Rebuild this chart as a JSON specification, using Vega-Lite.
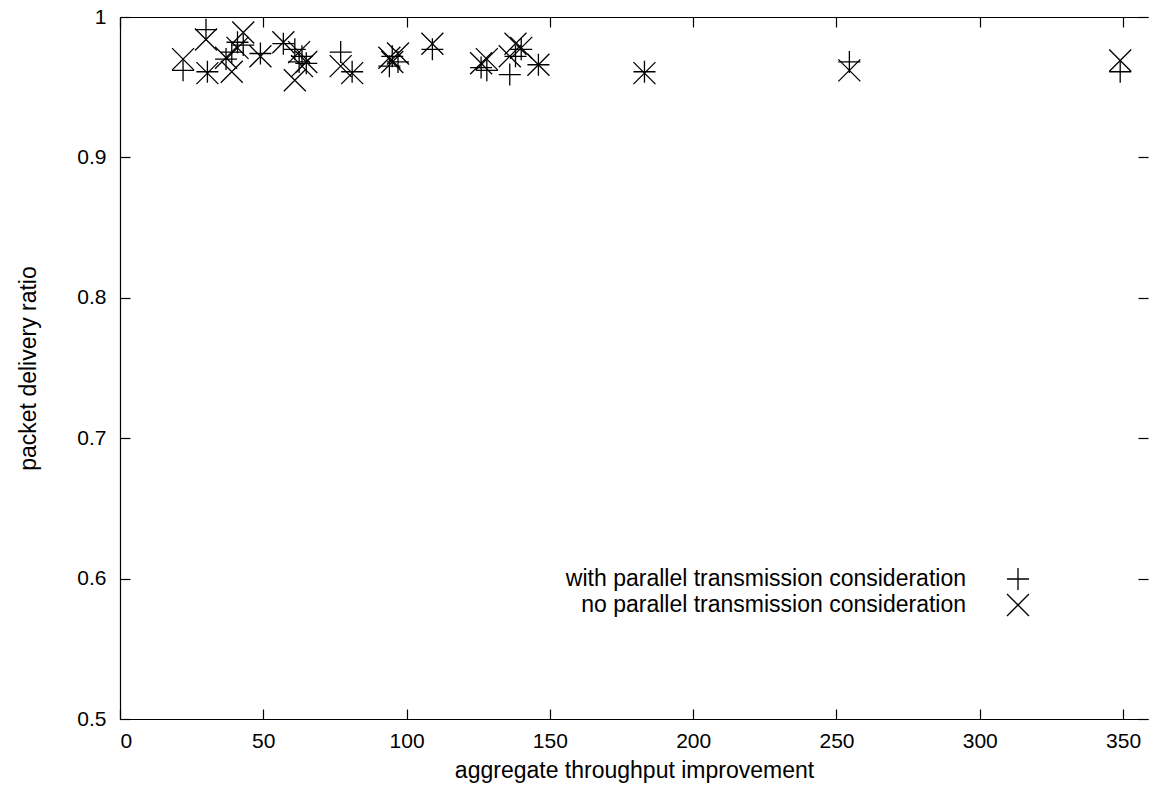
{
  "$schema": "https://vega.github.io/schema/vega-lite/v6.json",
  "autosize": {"type": "none"},
  "padding": {"left": 120, "top": 17, "right": 1, "bottom": 70},
  "width": 1028,
  "height": 702,
  "background": "white",
  "config": {
    "view": {"stroke": null},
    "font": "Liberation Sans",
    "axis": {
      "labelFont": "Liberation Sans",
      "titleFont": "Liberation Sans",
      "labelColor": "black",
      "titleColor": "black",
      "domainColor": "black",
      "tickColor": "black",
      "labelFontSize": 21,
      "titleFontSize": 23,
      "titleFontWeight": "normal",
      "grid": false,
      "tickSize": -10,
      "tickWidth": 1.2,
      "domainWidth": 1.2
    },
    "legend": {
      "labelFont": "Liberation Sans",
      "labelFontSize": 23,
      "labelColor": "black",
      "labelLimit": 0
    }
  },
  "data": {
    "values": [
      {"x": 22, "y": 0.962, "series": "with parallel transmission consideration"},
      {"x": 30, "y": 0.991, "series": "with parallel transmission consideration"},
      {"x": 30.5, "y": 0.961, "series": "with parallel transmission consideration"},
      {"x": 37, "y": 0.970, "series": "with parallel transmission consideration"},
      {"x": 39, "y": 0.975, "series": "with parallel transmission consideration"},
      {"x": 41, "y": 0.982, "series": "with parallel transmission consideration"},
      {"x": 43, "y": 0.980, "series": "with parallel transmission consideration"},
      {"x": 49, "y": 0.974, "series": "with parallel transmission consideration"},
      {"x": 57, "y": 0.981, "series": "with parallel transmission consideration"},
      {"x": 61, "y": 0.977, "series": "with parallel transmission consideration"},
      {"x": 62.5, "y": 0.968, "series": "with parallel transmission consideration"},
      {"x": 63.5, "y": 0.972, "series": "with parallel transmission consideration"},
      {"x": 65, "y": 0.967, "series": "with parallel transmission consideration"},
      {"x": 77, "y": 0.975, "series": "with parallel transmission consideration"},
      {"x": 81, "y": 0.961, "series": "with parallel transmission consideration"},
      {"x": 94, "y": 0.965, "series": "with parallel transmission consideration"},
      {"x": 95, "y": 0.972, "series": "with parallel transmission consideration"},
      {"x": 97, "y": 0.968, "series": "with parallel transmission consideration"},
      {"x": 109, "y": 0.977, "series": "with parallel transmission consideration"},
      {"x": 126, "y": 0.964, "series": "with parallel transmission consideration"},
      {"x": 128, "y": 0.962, "series": "with parallel transmission consideration"},
      {"x": 136, "y": 0.959, "series": "with parallel transmission consideration"},
      {"x": 138, "y": 0.972, "series": "with parallel transmission consideration"},
      {"x": 140, "y": 0.977, "series": "with parallel transmission consideration"},
      {"x": 146, "y": 0.966, "series": "with parallel transmission consideration"},
      {"x": 183, "y": 0.961, "series": "with parallel transmission consideration"},
      {"x": 254.5, "y": 0.968, "series": "with parallel transmission consideration"},
      {"x": 349, "y": 0.961, "series": "with parallel transmission consideration"},
      {"x": 22, "y": 0.970, "series": "no parallel transmission consideration"},
      {"x": 30, "y": 0.984, "series": "no parallel transmission consideration"},
      {"x": 30.5, "y": 0.960, "series": "no parallel transmission consideration"},
      {"x": 37, "y": 0.971, "series": "no parallel transmission consideration"},
      {"x": 39, "y": 0.961, "series": "no parallel transmission consideration"},
      {"x": 41, "y": 0.978, "series": "no parallel transmission consideration"},
      {"x": 43, "y": 0.989, "series": "no parallel transmission consideration"},
      {"x": 49, "y": 0.972, "series": "no parallel transmission consideration"},
      {"x": 57, "y": 0.982, "series": "no parallel transmission consideration"},
      {"x": 61, "y": 0.955, "series": "no parallel transmission consideration"},
      {"x": 62.5, "y": 0.975, "series": "no parallel transmission consideration"},
      {"x": 63.5, "y": 0.965, "series": "no parallel transmission consideration"},
      {"x": 65, "y": 0.968, "series": "no parallel transmission consideration"},
      {"x": 77, "y": 0.965, "series": "no parallel transmission consideration"},
      {"x": 81, "y": 0.960, "series": "no parallel transmission consideration"},
      {"x": 94, "y": 0.971, "series": "no parallel transmission consideration"},
      {"x": 95, "y": 0.968, "series": "no parallel transmission consideration"},
      {"x": 97, "y": 0.974, "series": "no parallel transmission consideration"},
      {"x": 109, "y": 0.981, "series": "no parallel transmission consideration"},
      {"x": 126, "y": 0.967, "series": "no parallel transmission consideration"},
      {"x": 128, "y": 0.970, "series": "no parallel transmission consideration"},
      {"x": 136, "y": 0.972, "series": "no parallel transmission consideration"},
      {"x": 138, "y": 0.981, "series": "no parallel transmission consideration"},
      {"x": 140, "y": 0.978, "series": "no parallel transmission consideration"},
      {"x": 146, "y": 0.966, "series": "no parallel transmission consideration"},
      {"x": 183, "y": 0.960, "series": "no parallel transmission consideration"},
      {"x": 254.5, "y": 0.962, "series": "no parallel transmission consideration"},
      {"x": 349, "y": 0.969, "series": "no parallel transmission consideration"}
    ]
  },
  "layer": [
    {
      "transform": [{"filter": "datum.series == 'with parallel transmission consideration'"}],
      "mark": {"type": "point", "filled": false, "stroke": "black", "strokeWidth": 1.3, "size": 484, "opacity": 1},
      "encoding": {
        "x": {"field": "x", "type": "quantitative",
              "scale": {"domain": [0, 358.7], "nice": false, "zero": false},
              "axis": {"orient": "bottom", "values": [0, 50, 100, 150, 200, 250, 300, 350], "labelPadding": 21, "title": "aggregate throughput improvement", "titlePadding": 8}},
        "y": {"field": "y", "type": "quantitative",
              "scale": {"domain": [0.5, 1], "nice": false, "zero": false},
              "axis": {"orient": "left", "values": [0.5, 0.6, 0.7, 0.8, 0.9, 1], "format": "~g", "labelPadding": 24, "title": "packet delivery ratio", "titlePadding": 36}},
        "shape": {"field": "series", "type": "nominal",
                  "scale": {"domain": ["with parallel transmission consideration", "no parallel transmission consideration"],
                            "range": ["M-1,0L1,0M0,-1L0,1", "M-1,-1L1,1M-1,1L1,-1"]},
                  "legend": {"orient": "none", "legendX": 886, "legendY": 550, "title": null, "labelAlign": "right", "labelOffset": -64, "labelLimit": 0, "symbolSize": 484, "symbolStrokeColor": "black", "symbolStrokeWidth": 1.3, "symbolFillColor": "transparent", "rowPadding": -4, "padding": 0}}
      }
    },
    {
      "transform": [{"filter": "datum.series == 'no parallel transmission consideration'"}],
      "mark": {"type": "point", "filled": false, "stroke": "black", "strokeWidth": 1.3, "size": 484, "opacity": 1},
      "encoding": {
        "x": {"field": "x", "type": "quantitative",
              "axis": {"orient": "top", "values": [0, 50, 100, 150, 200, 250, 300, 350], "labels": false, "title": null}},
        "y": {"field": "y", "type": "quantitative",
              "axis": {"orient": "right", "values": [0.5, 0.6, 0.7, 0.8, 0.9, 1], "labels": false, "title": null, "domain": false}},
        "shape": {"field": "series", "type": "nominal"}
      }
    }
  ],
  "resolve": {"axis": {"x": "independent", "y": "independent"}}
}
